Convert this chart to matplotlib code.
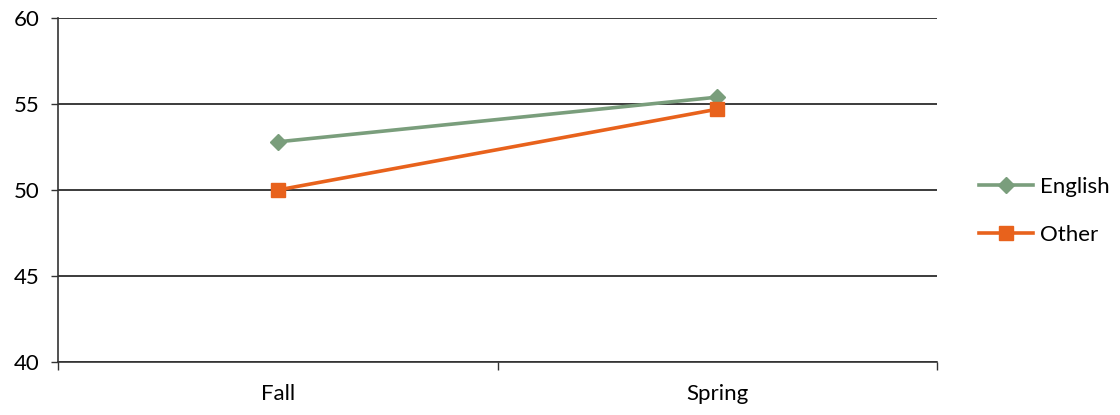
import matplotlib.pyplot as plt
import numpy as np

categories = ['Fall', 'Spring']
english = [52.8, 55.4]
other = [50.0, 54.7]
y_ticks = [40, 45, 50, 55, 60]

plt.rcParams['font.family'] = ['Lato', 'DejaVu Sans']

fig = plt.figure(figsize=(11.2, 4.15), dpi=100)
ax = fig.add_axes([0.0518, 0.1277, 0.785, 0.8289])

x = np.arange(len(categories))
ax.plot(x, english, color='#7a9e7c', linewidth=2.6, marker='D', markersize=8,
        label='English', zorder=3)
ax.plot(x, other, color='#e8621c', linewidth=2.6, marker='s', markersize=10,
        label='Other', zorder=4)

ax.set_xlim(-0.5, len(categories) - 0.5)
ax.set_ylim(40, 60)
ax.set_yticks(y_ticks)
ax.yaxis.grid(True, color='#1a1a1a', linewidth=1.2)
ax.set_axisbelow(True)

# category boundaries get the tick marks, labels sit in between
ax.set_xticks(np.arange(-0.5, len(categories)), labels=[])
ax.set_xticks(x, labels=categories, minor=True)
ax.tick_params(axis='x', which='major', direction='out', length=6, width=1, color='#333333')
ax.tick_params(axis='x', which='minor', length=0, pad=16, labelsize=16)
ax.tick_params(axis='y', direction='out', length=5, width=1, color='#333333', labelsize=16, pad=8)

for side in ['top', 'right']:
    ax.spines[side].set_visible(False)
for side in ['left', 'bottom']:
    ax.spines[side].set_color('#333333')
    ax.spines[side].set_linewidth(1.2)

ax.legend(loc='center left', bbox_to_anchor=(1.025, 0.44), frameon=False,
          fontsize=16, handlelength=2.4, labelspacing=1.25, handletextpad=0.35)

plt.savefig('out.png')
